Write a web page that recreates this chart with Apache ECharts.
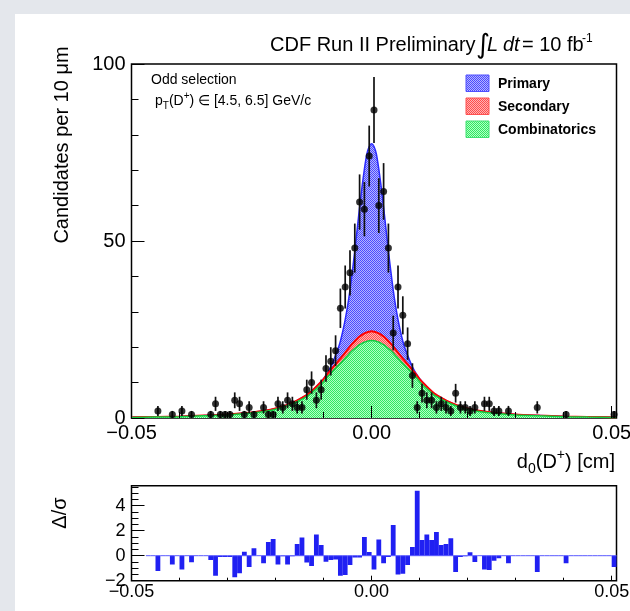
<!DOCTYPE html>
<html>
<head>
<meta charset="utf-8">
<script src="https://cdn.jsdelivr.net/npm/echarts@6/dist/echarts.min.js"></script>
<style>
  html, body { margin: 0; padding: 0; background: #e4e7ec; }
  #panel { position: absolute; left: 15px; top: 14px; width: 615px; height: 597px; background: #fff; }
  #chart { position: absolute; left: 0; top: 0; width: 630px; height: 611px; }
</style>
</head>
<body>
<div id="panel"></div>
<div id="chart"></div>
<script>
// Histogram binning of d0(D+): 101 bins of 10 um starting at -0.05 cm
const binLow = -0.05;
const binWidth = 0.001;

// Candidates per bin
const counts = [
  0, 0, 0, 0, 0, 2, 0, 0, 1, 0,
  2, 0, 1, 0, 0, 0, 1, 4, 1, 1,
  1, 5, 4, 1, 3, 1, 0, 3, 1, 1,
  4, 3, 5, 4, 3, 3, 8, 10, 5, 8,
  14, 16, 19, 31, 37, 41, 48, 61, 59, 74,
  87, 60, 64, 48, 24, 37, 29, 21, 12, 3,
  7, 5, 5, 3, 4, 3, 2, 7, 3, 3,
  2, 3, 0, 4, 4, 2, 2, 0, 2, 0,
  0, 0, 0, 0, 3, 0, 0, 0, 0, 0,
  1, 0, 0, 0, 0, 0, 0, 0, 0, 0,
  1
];

// Residuals Delta/sigma per bin (null = bin not in the residual histogram)
const pulls = [
  null, null, null, 0, 0, -1.23, 0, 0, -0.7, 0,
  -1.1, 0, -0.53, 0, 0, 0, -0.35, -1.6, -0.1, -0.1,
  -0.1, -1.73, -1.4, 0.32, -0.9, 0.6, 0, -0.6, 1.1, 1.33,
  -0.7, -0.05, -0.7, -0.05, 0.93, 1.45, -0.55, -0.83, 1.7, 0.85,
  -0.48, -0.35, -0.3, -1.6, -1.55, -0.75, -0.15, -0.15, 1.5, 0.3,
  -1.1, 1.3, -0.6, -0.1, 2.45, -1.5, -1.45, -0.75, 0.7, 5.2,
  1.25, 1.7, 1.25, 1.9, 0.85, 0.93, 1.4, -1.3, -0.1, -0.05,
  0.27, -0.5, 0, -1.1, -1.15, -0.4, -0.2, 0, -0.6, 0,
  0, 0, 0, 0, -1.3, 0, 0, 0, 0, 0,
  -0.6, 0, 0, 0, 0, 0, 0, 0, 0, 0,
  -0.9
];

// Fit components sampled along d0 [cm]
const fitD0 = [
  -0.050, -0.045, -0.040, -0.035, -0.030, -0.025, -0.022, -0.020, -0.018, -0.016,
  -0.015, -0.014, -0.013, -0.012, -0.011, -0.010,
  -0.0095, -0.009, -0.0085, -0.008, -0.0075, -0.007, -0.0065, -0.006, -0.0055, -0.005,
  -0.0045, -0.004, -0.0035, -0.003, -0.0025, -0.002, -0.0015, -0.001, -0.0005,
  0,
  0.0005, 0.001, 0.0015, 0.002, 0.0025, 0.003, 0.0035, 0.004, 0.0045, 0.005,
  0.0055, 0.006, 0.0065, 0.007, 0.0075, 0.008, 0.0085, 0.009, 0.0095,
  0.010, 0.011, 0.012, 0.013, 0.014, 0.015, 0.016, 0.018, 0.020, 0.022,
  0.025, 0.030, 0.035, 0.040, 0.045, 0.050, 0.051
];
const fitComb = [
  0.16, 0.25, 0.38, 0.61, 0.88, 1.38, 1.9, 2.47, 3.23, 4.3,
  4.95, 5.7, 6.5, 7.65, 8.9, 10.25,
  11.1, 11.9, 12.6, 13.35, 14.05, 14.75, 15.45, 16.15, 16.9, 17.6,
  18.4, 19.05, 19.6, 20.2, 20.7, 21.1, 21.4, 21.65, 21.8,
  21.9,
  21.8, 21.65, 21.4, 21.1, 20.7, 20.2, 19.6, 19.05, 18.4, 17.6,
  16.9, 16.15, 15.45, 14.75, 14.05, 13.35, 12.6, 11.9, 11.1,
  10.25, 8.9, 7.65, 6.5, 5.7, 4.95, 4.3, 3.23, 2.47, 1.9,
  1.38, 0.88, 0.61, 0.38, 0.25, 0.16, 0.15
];
const fitSec = [
  0.04, 0.05, 0.07, 0.09, 0.12, 0.17, 0.2, 0.23, 0.27, 0.32,
  0.36, 0.4, 0.47, 0.55, 0.65, 0.75,
  0.82, 0.9, 0.97, 1.05, 1.15, 1.25, 1.35, 1.45, 1.58, 1.7,
  1.82, 1.95, 2.08, 2.2, 2.3, 2.4, 2.48, 2.55, 2.58,
  2.6,
  2.58, 2.55, 2.48, 2.4, 2.3, 2.2, 2.08, 1.95, 1.82, 1.7,
  1.58, 1.45, 1.35, 1.25, 1.15, 1.05, 0.97, 0.9, 0.82,
  0.75, 0.65, 0.55, 0.47, 0.4, 0.36, 0.32, 0.27, 0.23, 0.2,
  0.17, 0.12, 0.09, 0.07, 0.05, 0.04, 0.04
];
const fitPrim = [
  0, 0, 0, 0, 0, 0, 0, 0, 0, 0,
  0, 0, 0, 0, 0.05, 0.1,
  0.2, 0.4, 0.9, 1.6, 2.5, 3.5, 4.9, 6.9, 9.3, 12.3,
  15.9, 20.5, 25.5, 30.9, 36.5, 41.7, 46.4, 50.3, 52.3,
  53.0,
  52.3, 50.3, 46.4, 41.7, 36.5, 30.9, 25.5, 20.5, 15.9, 12.3,
  9.3, 6.9, 4.9, 3.5, 2.5, 1.6, 0.9, 0.4, 0.2,
  0.1, 0.05, 0, 0, 0, 0, 0, 0, 0, 0,
  0, 0, 0, 0, 0, 0, 0
];

const legendNames = ['Primary', 'Secondary', 'Combinatorics'];
const xTickLabels = { step: 0.05, minor: 0.01 };

// Fine dotted fill, like a ROOT hatch style
function dots(c1, c2) {
  const cv = document.createElement('canvas');
  cv.width = 2; cv.height = 2;
  const g = cv.getContext('2d');
  g.fillStyle = c2; g.fillRect(0, 0, 2, 2);
  g.fillStyle = c1; g.fillRect(0, 0, 1, 1); g.fillRect(1, 1, 1, 1);
  return { image: cv, repeat: 'repeat' };
}
const bluePat = dots('#4c4cff', '#b4b4ff');
const redPat = dots('#ff4d4d', '#ffb3b3');
const greenPat = dots('#30e862', '#b0ffc4');

const xMin = binLow;
const xMax = binLow + binWidth * counts.length;

// cumulative fit curves: combinatorics, + secondary, + primary
const curveComb = fitD0.map((d, i) => [d, fitComb[i]]);
const curveCombSec = fitD0.map((d, i) => [d, fitComb[i] + fitSec[i]]);
const curveTotal = fitD0.map((d, i) => [d, fitComb[i] + fitSec[i] + fitPrim[i]]);

const points = [], errBars = [], pullBins = [];
counts.forEach((n, i) => {
  const c = binLow + binWidth * (i + 0.5);
  if (n > 0) {
    points.push([c, n]);
    errBars.push([c, n, Math.sqrt(n)]);
  }
});
pulls.forEach((p, i) => {
  if (p === null) return;
  pullBins.push([binLow + binWidth * i, binLow + binWidth * (i + 1), p]);
});

const FONT = 'Liberation Sans';
const minus = s => s.replace('-', '\u2212');
const fmtX = v => (Math.abs(v - xMax) < 1e-9) ? '' : minus(v.toFixed(2));

function mainX(grid, fs, tickLen, margin) {
  return {
    type: 'value', gridIndex: grid, position: 'bottom', min: xMin, max: xMax, interval: xTickLabels.step, z: 10,
    axisLine: { show: false, onZero: false },
    axisTick: { inside: true, length: tickLen, lineStyle: { color: '#000', width: 1 } },
    axisLabel: { formatter: fmtX, fontSize: fs, color: '#000', fontFamily: FONT, margin: margin,
                 showMinLabel: true, showMaxLabel: true, hideOverlap: false },
    splitLine: { show: false }
  };
}
function minorX(grid, tickLen) {
  return {
    type: 'value', gridIndex: grid, position: 'bottom', min: xMin, max: xMax, interval: xTickLabels.minor, z: 10,
    axisLine: { show: false, onZero: false },
    axisTick: { inside: true, length: tickLen, lineStyle: { color: '#000', width: 1 } },
    axisLabel: { show: false }, splitLine: { show: false }
  };
}
function yAx(grid, min, max, interval, tickLen, label) {
  return {
    type: 'value', gridIndex: grid, position: 'left', min: min, max: max, interval: interval, z: 10,
    axisLine: { show: false, onZero: false },
    axisTick: { inside: true, length: tickLen, lineStyle: { color: '#000', width: 1 } },
    axisLabel: label || { show: false },
    splitLine: { show: false }
  };
}

const chart = echarts.init(document.getElementById('chart'), null, { renderer: 'canvas' });

const option = {
  animation: false,
  backgroundColor: 'transparent',
  textStyle: { fontFamily: FONT },
  grid: [
    { left: 131.5, top: 64, width: 485, height: 354, show: true, borderColor: '#000', borderWidth: 1.5,
      backgroundColor: 'transparent', outerBoundsMode: 'none', containLabel: false },
    { left: 131.5, top: 485.7, width: 485, height: 95, show: true, borderColor: '#000', borderWidth: 1.5,
      backgroundColor: 'transparent', outerBoundsMode: 'none', containLabel: false }
  ],
  xAxis: [
    mainX(0, 20, 12, 5),
    minorX(0, 6),
    mainX(1, 18, 5, 2),
    minorX(1, 3)
  ],
  yAxis: [
    yAx(0, 0, 100, 50, 13, { fontSize: 20, color: '#000', fontFamily: FONT, margin: 6 }),
    yAx(0, 0, 100, 10, 7),
    yAx(1, -2, 5.6, 2, 13, { fontSize: 18, color: '#000', fontFamily: FONT, margin: 6,
                             formatter: v => v > 5 ? '' : minus(String(v)) }),
    yAx(1, -2, 5.6, 0.5, 7)
  ],
  series: [
    { name: legendNames[0], type: 'line', xAxisIndex: 0, yAxisIndex: 0,
      data: curveTotal, symbol: 'none', smooth: 0.2,
      lineStyle: { color: '#2a2aff', width: 1.5 }, areaStyle: { color: bluePat, opacity: 1 }, z: 2 },
    { name: legendNames[1], type: 'line', xAxisIndex: 0, yAxisIndex: 0,
      data: curveCombSec, symbol: 'none', smooth: 0.2,
      lineStyle: { color: '#ff0000', width: 2 }, areaStyle: { color: redPat, opacity: 1 }, z: 3 },
    { name: legendNames[2], type: 'line', xAxisIndex: 0, yAxisIndex: 0,
      data: curveComb, symbol: 'none', smooth: 0.2,
      lineStyle: { color: '#10cc40', width: 1.5 }, areaStyle: { color: greenPat, opacity: 1 }, z: 4 },
    { type: 'custom', xAxisIndex: 0, yAxisIndex: 0, data: errBars, z: 5, clip: true,
      renderItem: (params, api) => {
        const x = api.value(0), y = api.value(1), e = api.value(2);
        const a = api.coord([x, y - e]), b = api.coord([x, y + e]);
        return { type: 'line', shape: { x1: a[0], y1: a[1], x2: b[0], y2: b[1] },
                 style: { stroke: '#111', lineWidth: 1.7 } };
      } },
    { type: 'scatter', xAxisIndex: 0, yAxisIndex: 0, data: points, symbol: 'circle', symbolSize: 7,
      itemStyle: { color: '#000' }, z: 6 },
    { type: 'custom', xAxisIndex: 2, yAxisIndex: 2, data: pullBins, z: 3, clip: true,
      encode: { x: [0, 1], y: 2 },
      renderItem: (params, api) => {
        const lo = api.value(0), hi = api.value(1), v = api.value(2);
        const a = api.coord([lo, 0]), b = api.coord([hi, v]);
        return { type: 'group', children: [
          { type: 'rect', shape: { x: a[0], y: Math.min(a[1], b[1]), width: b[0] - a[0], height: Math.abs(b[1] - a[1]) },
            style: { fill: '#2020f2' } },
          { type: 'line', shape: { x1: a[0], y1: a[1], x2: b[0], y2: a[1] },
            style: { stroke: '#5a5aff', lineWidth: 1 } }
        ] };
      } }
  ],
  graphic: [
    // title
    { type: 'text', x: 270, y: 45, style: { text: 'CDF Run II Preliminary', font: '20px "Liberation Sans"', fill: '#000', verticalAlign: 'middle' } },
    { type: 'text', x: 476, y: 46, style: { text: '\u222B', font: '27px "DejaVu Sans"', fill: '#000', verticalAlign: 'middle' } },
    { type: 'text', x: 487, y: 45, style: { text: 'L', font: 'italic 20px "Liberation Sans"', fill: '#000', verticalAlign: 'middle' } },
    { type: 'text', x: 503, y: 45, style: { text: 'dt', font: 'italic 20px "Liberation Sans"', fill: '#000', verticalAlign: 'middle' } },
    { type: 'text', x: 522, y: 45, style: { text: '= 10 fb', font: '20px "Liberation Sans"', fill: '#000', verticalAlign: 'middle' } },
    { type: 'text', x: 582, y: 39, style: { text: '-1', font: '12px "Liberation Sans"', fill: '#000', verticalAlign: 'middle' } },
    // selection text
    { type: 'text', x: 151, y: 80, style: { text: 'Odd selection', font: '14px "Liberation Sans"', fill: '#000', verticalAlign: 'middle' } },
    { type: 'text', x: 155, y: 101, style: {
        text: '{n|p}{sub|T}{n|(D}{sup|+}{n|) \u2208 [4.5, 6.5] GeV/c}', verticalAlign: 'middle',
        rich: {
          n: { fontSize: 14, fontFamily: FONT, color: '#000', lineHeight: 20, verticalAlign: 'middle' },
          sub: { fontSize: 10, fontFamily: FONT, color: '#000', lineHeight: 10, verticalAlign: 'bottom' },
          sup: { fontSize: 10, fontFamily: FONT, color: '#000', lineHeight: 10, verticalAlign: 'top' }
        } } },
    // legend
    { type: 'rect', shape: { x: 466, y: 75, width: 23, height: 16.5 }, style: { fill: bluePat, stroke: '#5050ff', lineWidth: 1 } },
    { type: 'rect', shape: { x: 466, y: 98, width: 23, height: 16.5 }, style: { fill: redPat, stroke: '#ff5050', lineWidth: 1 } },
    { type: 'rect', shape: { x: 466, y: 121, width: 23, height: 16.5 }, style: { fill: greenPat, stroke: '#40e070', lineWidth: 1 } },
    { type: 'text', x: 498, y: 84, style: { text: legendNames[0], font: 'bold 14px "Liberation Sans"', fill: '#000', verticalAlign: 'middle' } },
    { type: 'text', x: 498, y: 107, style: { text: legendNames[1], font: 'bold 14px "Liberation Sans"', fill: '#000', verticalAlign: 'middle' } },
    { type: 'text', x: 498, y: 130, style: { text: legendNames[2], font: 'bold 14px "Liberation Sans"', fill: '#000', verticalAlign: 'middle' } },
    // axis titles
    { type: 'text', x: 62, y: 145, rotation: Math.PI / 2, style: { text: 'Candidates per 10 \u03BCm', font: '20px "Liberation Sans"', fill: '#000', align: 'center', verticalAlign: 'middle' } },
    { type: 'text', x: 615, y: 462, style: {
        text: '{n|d}{sub|0}{n|(D}{sup|+}{n|) [cm]}', align: 'right', verticalAlign: 'middle',
        rich: {
          n: { fontSize: 20, fontFamily: FONT, color: '#000', lineHeight: 28, verticalAlign: 'middle' },
          sub: { fontSize: 14, fontFamily: FONT, color: '#000', lineHeight: 14, verticalAlign: 'bottom' },
          sup: { fontSize: 14, fontFamily: FONT, color: '#000', lineHeight: 14, verticalAlign: 'top' }
        } } },
    { type: 'text', x: 60, y: 513, rotation: Math.PI / 2, style: { text: '\u0394/\u03C3', font: '20px "Liberation Sans"', fill: '#000', align: 'center', verticalAlign: 'middle' } }
  ]
};

chart.setOption(option);
</script>
</body>
</html>
